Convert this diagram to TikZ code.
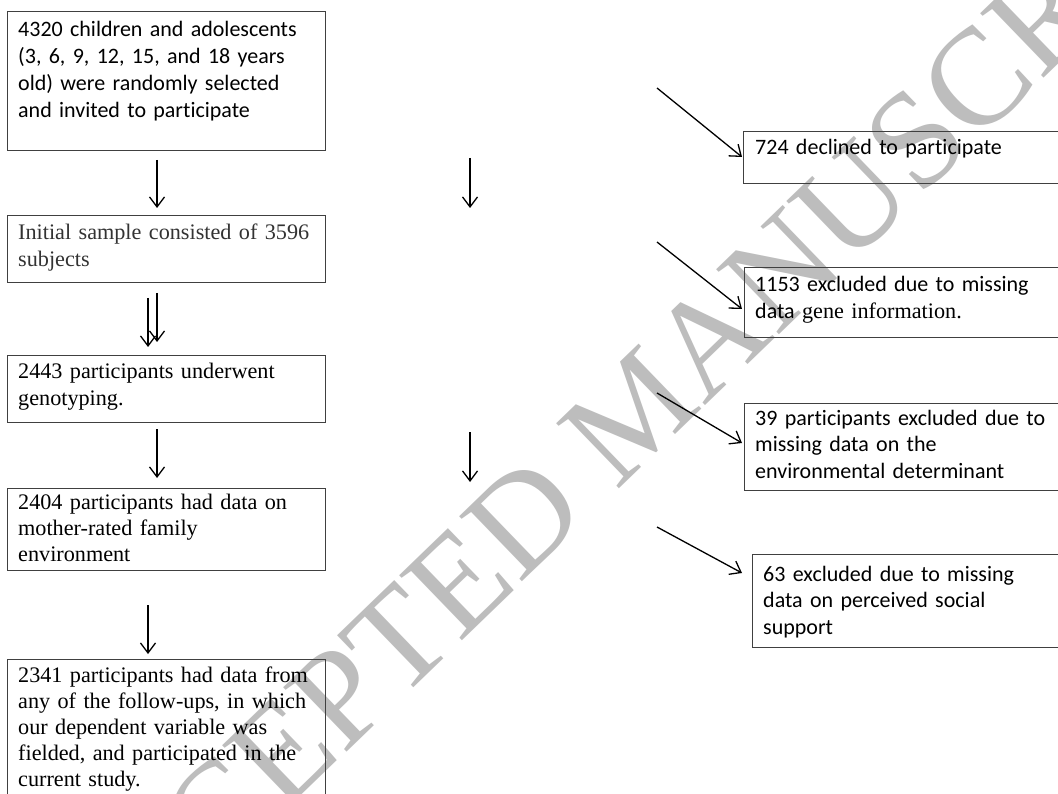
\documentclass[tikz,border=0pt]{standalone}
\usepackage{fontspec}
\setmainfont{Liberation Serif}
\newfontfamily\calibri[Ligatures={NoCommon}]{Carlito}
\usetikzlibrary{arrows.meta,calc}
\begin{document}
\begin{tikzpicture}[x=1pt,y=-1pt,
  box/.style={draw=black!75, line width=1.1pt, anchor=north west, inner sep=0pt},
  cal/.style={font=\calibri\fontsize{22}{26.7}\selectfont, anchor=base west, inner sep=0pt, align=left, text width=330pt},
  tms/.style={font=\fontsize{22.2}{26.2}\selectfont, anchor=base west, inner sep=0pt, align=left, text width=330pt},
  arr/.style={-{Straight Barb[length=10pt,width=15pt]}, line width=1.3pt},
  wmark/.style={font=\fontsize{138}{138}\selectfont, text=black!26, inner sep=0pt}
]
\useasboundingbox (0,0) rectangle (1058,794);
\clip (0,0) rectangle (1058,794);
\fill[white] (0,0) rectangle (1058,794);

% watermark
\node[wmark, rotate=44] (wm) at (636,410) {ACCEPTED MANUSCRIPT};

% left boxes
\node[box, minimum width=318pt, minimum height=139pt] (b1) at (7,11) {};
\node[cal] (t1) at (18,37) {4320 children and adolescents\\(3, 6, 9, 12, 15, and 18 years\\old) were randomly selected\\and invited to participate};

\node[box, minimum width=318pt, minimum height=67pt] (b2) at (7,215) {};
\node[tms, text=black!80] (t2) at (18,240) {Initial sample consisted of 3596\\subjects};

\node[box, minimum width=318pt, minimum height=67pt] (b3) at (7,355) {};
\node[tms] (t3) at (18,379) {2443 participants underwent\\genotyping.};

\node[box, minimum width=318pt, minimum height=82pt] (b4) at (7,488) {};
\node[tms] (t4) at (18,509) {2404 participants had data on\\mother-rated family\\environment};

\node[box, minimum width=318pt, minimum height=160pt] (b5) at (7,659) {};
\node[tms] (t5) at (18,682) {2341 participants had data from\\any of the follow-ups, in which\\our dependent variable was\\fielded, and participated in the\\current study.};

% right boxes
\node[box, minimum width=330pt, minimum height=52pt] (r1) at (743,131) {};
\node[cal] (s1) at (755,155) {724 declined to participate};

\node[box, minimum width=330pt, minimum height=70pt] (r2) at (744,267) {};
\node[tms] (s2) at (755,292) {{\calibri\fontsize{22}{26.7}\selectfont 1153 excluded due to missing}\\{\calibri\fontsize{22}{26.7}\selectfont data} gene information.};

\node[box, minimum width=330pt, minimum height=87pt] (r3) at (744,403) {};
\node[cal] (s3) at (755,425) {39 participants excluded due to\\missing data on the\\environmental determinant};

\node[box, minimum width=330pt, minimum height=93pt] (r4) at (752,554) {};
\node[cal] (s4) at (763,581) {63 excluded due to missing\\data on perceived social\\support};

% arrow end points
\coordinate (a1s) at (157,160); \coordinate (a1e) at (157,208);
\coordinate (m1s) at (470,158); \coordinate (m1e) at (470,208);
\coordinate (d1s) at (657,88);  \coordinate (d1e) at (742,157);
\coordinate (d2s) at (657,242); \coordinate (d2e) at (742,309);
\coordinate (a2s) at (148,298); \coordinate (a2e) at (148,347);
\coordinate (a2bs) at (157,293); \coordinate (a2be) at (157,342);
\coordinate (a3s) at (157,429); \coordinate (a3e) at (157,478);
\coordinate (m2s) at (470,432); \coordinate (m2e) at (470,482);
\coordinate (d3s) at (657,393); \coordinate (d3e) at (742,443);
\coordinate (d4s) at (657,527); \coordinate (d4e) at (742,573);
\coordinate (a4s) at (148,605); \coordinate (a4e) at (148,654);

\draw[arr] (a1s) -- (a1e);
\draw[arr] (m1s) -- (m1e);
\draw[arr] (d1s) -- (d1e);
\draw[arr] (d2s) -- (d2e);
\draw[arr] (a2s) -- (a2e);
\draw[arr] (a2bs) -- (a2be);
\draw[arr] (a3s) -- (a3e);
\draw[arr] (m2s) -- (m2e);
\draw[arr] (d3s) -- (d3e);
\draw[arr] (d4s) -- (d4e);
\draw[arr] (a4s) -- (a4e);
\end{tikzpicture}
\end{document}
